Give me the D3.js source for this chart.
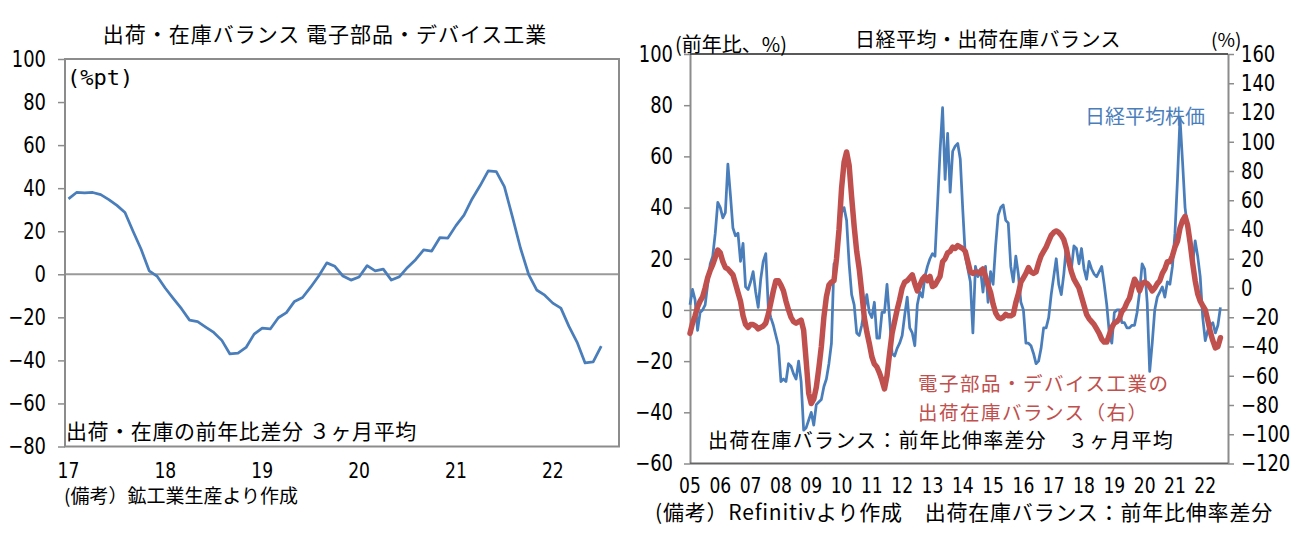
<!DOCTYPE html>
<html>
<head>
<meta charset="utf-8">
<script src="https://cdnjs.cloudflare.com/ajax/libs/d3/7.8.5/d3.min.js"></script>
<style>
body { margin: 0; background: #fff; }
text { font-family: "Noto Sans CJK JP", sans-serif; }
.num text, text.num { font-family: "DejaVu Sans", sans-serif; }
</style>
</head>
<body>
<div id="chart"></div>
<script>
// left chart: 出荷・在庫バランス (Jan 2017 - Jul 2022, monthly)
var leftYears = ["17", "18", "19", "20", "21", "22"];
var leftTicks = [100, 80, 60, 40, 20, 0, -20, -40, -60, -80];
var leftBalance = [35, 38, 37.8, 38, 37, 34.7, 32, 28.7, 20, 11.6, 1.6, -1,
    -6.5, -11.3, -16, -21.3, -22, -24.5, -27, -30.7, -37, -36.6, -34, -27.8,
    -25, -25.4, -20.2, -17.8, -12.6, -10.8, -6, -0.8, 5.3, 3.7, -0.8, -2.7,
    -1.3, 4, 1.6, 2.4, -2.7, -1.1, 3.2, 6.8, 11.3, 10.8, 17, 16.8,
    22.6, 27.5, 35, 41.2, 48, 47.7, 40.7, 26.7, 12.1, 0, -7.3, -9.7,
    -13.4, -15.7, -24.2, -31.5, -41.2, -40.7, -33.4];

// right chart: 日経平均・出荷在庫バランス (Jan 2005 - Jul 2022, monthly)
var rightYears = ["05", "06", "07", "08", "09", "10", "11", "12", "13", "14", "15",
    "16", "17", "18", "19", "20", "21", "22"];
var leftAxisTicks = [100, 80, 60, 40, 20, 0, -20, -40, -60];
var rightAxisTicks = [160, 140, 120, 100, 80, 60, 40, 20, 0, -20, -40, -60, -80, -100, -120];
var nikkei = [2, 8, 4, -8, -1, 0, 2, 10, 18, 21, 30, 42,
    40, 36, 38, 57, 45, 32, 29, 30, 19, 26, 9, 8,
    11, 15, 7, 1, 12, 19, 22, 1, -3, -6, -10, -14,
    -28, -27, -28, -21, -22, -25, -27, -20, -28, -47, -46, -43,
    -40, -45, -37, -36, -35, -30, -27, -21, -13, 18, 19, 32,
    38, 40, 35, 18, 6, 2, -9, -10, -6, 0, 6, -1,
    -3, 3, -11, -11, -1, -1, 10, -3, -17, -18, -15, -13,
    -10, -2, 5, -7, -9, -14, 2, 7, 5, 13, 17, 20,
    22, 21, 41, 62, 79, 51, 69, 46, 62, 64, 65, 59,
    39, 21, 16, 11, -9, 17, 13, 16, 7, 17, 3, 15,
    10, 25, 37, 40, 41, 35, 34, 17, 11, 21, 14, 3,
    0, -13, -13, -14, -17, -21, -20, -15, -7, -7, -3, 6,
    13, 20, 10, 6, 14, 25, 18, 16, 25, 24, 18, 24,
    16, 12, 19, 16, 14, 13, 15, 17, 10, 2, -9, -13,
    -1, 0, 0, -5, -5, -7, -7, -6, -6, -1, 7, 18,
    16, 3, -24, -13, 0, 5, 7, 9, 5, 11, 10, 17,
    30, 51, 75, 58, 40, 32, 24, 18, 27, 21, 13, -3,
    -12, -8, -6, -5, -9, -6, 1];
var deviceBalance = [-31, -24, -19, -13, -9, -6, 0, 7, 12, 16, 21, 26,
    24, 18, 14, 13, 11, 9, 3, -3, -9, -19, -25, -27,
    -25, -25, -26, -28, -27, -26, -24, -18, -10, -2, 5, 5,
    2, -2, -9, -15, -20, -23, -24, -23, -22, -29, -50, -72,
    -79, -76, -68, -55, -40, -20, -6, 2, 4, 5, 20, 40,
    68, 86, 93, 84, 62, 42, 25, 13, -3, -20, -30, -38,
    -47, -52, -54, -58, -63, -69, -60, -45, -31, -23, -15, -8,
    0, 4, 5, 7, 9, 3, -2, 2, 6, 8, 5, 8,
    1, 2, 5, 8, 18, 20, 24, 25, 28, 27, 29, 28,
    27, 25, 18, 11, 10, 11, 11, 10, 13, 8, 2, -3,
    -11, -17, -20, -21, -20, -18, -19, -19, -18, -10, -4, 4,
    7, 10, 14, 11, 10, 11, 17, 22, 25, 28, 32, 36,
    38, 39, 38, 36, 33, 27, 18, 11, 6, 3, 0, -6,
    -12, -18, -21, -23, -25, -28, -31, -35, -37, -37, -32, -27,
    -24, -23, -21, -16, -14, -10, -7, 0, 6, 3, -2, 3,
    4, 3, 1, -2, 0, 3, 5, 10, 13, 18, 18, 22,
    28, 32, 41, 46, 49, 43, 31, 17, 5, -4, -9, -12,
    -15, -22, -30, -36, -41, -40, -34];

var blue = "#4a7ebb";
var red = "#c0504d";
var axisGrey = "#8c8c8c";
var narrow = 0.78;   // squeeze the digits, the original uses a tall narrow font

var svg = d3.select("#chart")
    .append("svg")
    .attr("width", 1303)
    .attr("height", 544);

// ---------- left chart ----------
var x1 = d3.scaleLinear().domain([-0.43, 68.2]).range([65, 619]);
var y1 = d3.scaleLinear().domain([-80, 100]).range([446.5, 59]);

var left = svg.append("g").attr("id", "left");

left.append("text")
    .attr("x", 325)
    .attr("y", 42)
    .attr("text-anchor", "middle")
    .attr("font-size", 21)
    .style("letter-spacing", "1px")
    .text("出荷・在庫バランス 電子部品・デバイス工業");

left.append("line")
    .attr("x1", x1.range()[0]).attr("x2", x1.range()[1])
    .attr("y1", y1(0)).attr("y2", y1(0))
    .style("stroke", "#9a9a9a")
    .style("stroke-width", 2);

left.append("rect")
    .attr("x", x1.range()[0])
    .attr("y", y1.range()[1])
    .attr("width", x1.range()[1] - x1.range()[0])
    .attr("height", y1.range()[0] - y1.range()[1])
    .style("fill", "none")
    .style("stroke", axisGrey)
    .style("stroke-width", 2);

var yAxis1 = left.append("g")
    .attr("class", "num")
    .attr("transform", "translate(" + x1.range()[0] + ",0)")
    .call(d3.axisLeft(y1).tickValues(leftTicks).tickSize(7).tickSizeOuter(0));
yAxis1.select(".domain").remove();
yAxis1.selectAll("line").style("stroke", axisGrey).style("stroke-width", 1.5);
yAxis1.selectAll("text")
    .attr("font-size", 23)
    .attr("x", -19 / narrow)
    .attr("transform", "scale(" + narrow + ",1)")
    .style("fill", "#000");

left.selectAll(".xlab")
    .data(leftYears)
    .enter()
    .append("text")
    .attr("class", "num")
    .attr("transform", function(d, i) { return "translate(" + x1(i * 12) + ",478) scale(" + narrow + ",1)"; })
    .attr("text-anchor", "middle")
    .attr("font-size", 22)
    .text(function(d) { return d; });

left.append("path")
    .datum(leftBalance)
    .attr("d", d3.line().x(function(d, i) { return x1(i); }).y(function(d) { return y1(d); }))
    .style("fill", "none")
    .style("stroke", blue)
    .style("stroke-width", 2.75)
    .style("stroke-linejoin", "round");

left.append("text")
    .attr("x", 67)
    .attr("y", 85)
    .attr("font-size", 22)
    .style("font-family", "'DejaVu Sans Mono', monospace")
    .text("(%pt)");

left.append("text")
    .attr("x", 66)
    .attr("y", 439)
    .attr("font-size", 21)
    .style("letter-spacing", "0.6px")
    .text("出荷・在庫の前年比差分 ３ヶ月平均");

left.append("text")
    .attr("x", 64)
    .attr("y", 503)
    .attr("font-size", 19)
    .text("(備考）鉱工業生産より作成");

// ---------- right chart ----------
var x2 = d3.scaleLinear().domain([0, 213]).range([690, 1228]);
var y2 = d3.scaleLinear().domain([-60, 100]).range([463.5, 54]);
var y3 = d3.scaleLinear().domain([-120, 160]).range([463.5, 54]);

var right = svg.append("g").attr("id", "right");

right.append("line")
    .attr("x1", x2.range()[0]).attr("x2", x2.range()[1])
    .attr("y1", y2(0)).attr("y2", y2(0))
    .style("stroke", "#9a9a9a")
    .style("stroke-width", 2);

var yAxis2 = right.append("g")
    .attr("class", "num")
    .attr("transform", "translate(" + x2.range()[0] + ",0)")
    .call(d3.axisLeft(y2).tickValues(leftAxisTicks).tickSize(6).tickSizeOuter(0));
yAxis2.select(".domain").style("stroke", axisGrey).style("stroke-width", 2);
yAxis2.selectAll("line").style("stroke", axisGrey).style("stroke-width", 1.5);
yAxis2.selectAll("text")
    .attr("font-size", 23)
    .attr("x", -17 / narrow)
    .attr("transform", "scale(" + narrow + ",1)")
    .style("fill", "#000");

var yAxis3 = right.append("g")
    .attr("class", "num")
    .attr("transform", "translate(" + x2.range()[1] + ",0)")
    .call(d3.axisRight(y3).tickValues(rightAxisTicks).tickSize(6).tickSizeOuter(0));
yAxis3.select(".domain").style("stroke", axisGrey).style("stroke-width", 2);
yAxis3.selectAll("line").style("stroke", axisGrey).style("stroke-width", 1.5);
yAxis3.selectAll("text")
    .attr("font-size", 23)
    .attr("x", 13 / narrow)
    .attr("transform", "scale(" + narrow + ",1)")
    .style("fill", "#000");

right.append("line")
    .attr("x1", x2.range()[0]).attr("x2", x2.range()[1])
    .attr("y1", y2.range()[1]).attr("y2", y2.range()[1])
    .style("stroke", "#222")
    .style("stroke-width", 1.5);
right.append("line")
    .attr("x1", x2.range()[0]).attr("x2", x2.range()[1])
    .attr("y1", y2.range()[0]).attr("y2", y2.range()[0])
    .style("stroke", "#666")
    .style("stroke-width", 2);

right.selectAll(".xlab")
    .data(rightYears)
    .enter()
    .append("text")
    .attr("class", "num")
    .attr("transform", function(d, i) { return "translate(" + x2(i * 12) + ",493) scale(" + narrow + ",1)"; })
    .attr("text-anchor", "middle")
    .attr("font-size", 22)
    .text(function(d) { return d; });

right.append("path")
    .datum(nikkei)
    .attr("d", d3.line().x(function(d, i) { return x2(i); }).y(function(d) { return y2(d); }))
    .style("fill", "none")
    .style("stroke", blue)
    .style("stroke-width", 2.75)
    .style("stroke-linejoin", "round");

right.append("path")
    .datum(deviceBalance)
    .attr("d", d3.line().x(function(d, i) { return x2(i); }).y(function(d) { return y3(d); }))
    .style("fill", "none")
    .style("stroke", red)
    .style("stroke-width", 5.5)
    .style("stroke-linejoin", "round")
    .style("stroke-linecap", "round");

right.append("text")
    .attr("x", 988)
    .attr("y", 47)
    .attr("text-anchor", "middle")
    .attr("font-size", 20)
    .style("letter-spacing", "0.5px")
    .text("日経平均・出荷在庫バランス");

right.append("text")
    .attr("x", 675)
    .attr("y", 52)
    .attr("font-size", 20)
    .text("(前年比、%)");

right.append("text")
    .attr("x", 1211)
    .attr("y", 47)
    .attr("font-size", 19)
    .text("(%)");

right.append("text")
    .attr("x", 1085)
    .attr("y", 124)
    .attr("font-size", 20)
    .style("fill", blue)
    .text("日経平均株価");

var redLabel = right.append("text")
    .attr("font-size", 19.5)
    .style("letter-spacing", "1.5px")
    .style("fill", red);
redLabel.append("tspan")
    .attr("x", 918)
    .attr("y", 391)
    .text("電子部品・デバイス工業の");
redLabel.append("tspan")
    .attr("x", 918)
    .attr("dy", 28.5)
    .text("出荷在庫バランス（右）");

right.append("text")
    .attr("x", 708)
    .attr("y", 448)
    .attr("font-size", 20)
    .style("letter-spacing", "1.2px")
    .text("出荷在庫バランス：前年比伸率差分　３ヶ月平均");

right.append("text")
    .attr("x", 655)
    .attr("y", 520)
    .attr("font-size", 21)
    .style("letter-spacing", "0.8px")
    .text("(備考）Refinitivより作成　出荷在庫バランス：前年比伸率差分");
</script>
</body>
</html>
